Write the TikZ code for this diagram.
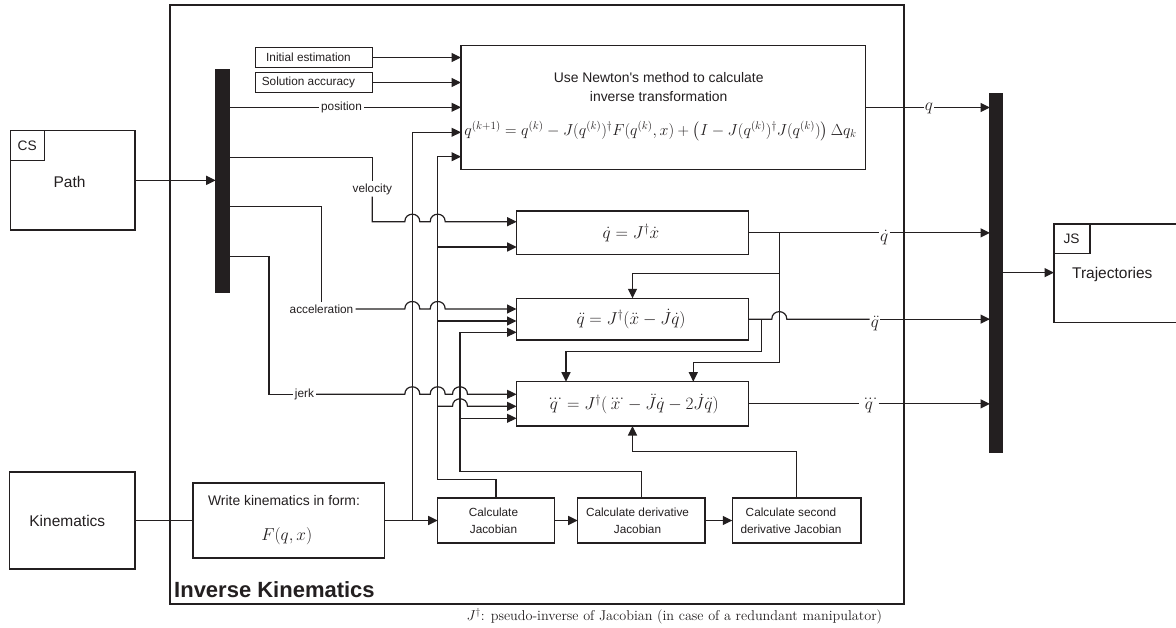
\documentclass[tikz,border=0pt]{standalone}
\usepackage{amsmath}
\usepackage{graphicx}
\usepackage{fontspec}
\newfontfamily\arial{Liberation Sans}
\usetikzlibrary{arrows.meta}
\definecolor{ink}{RGB}{35,31,32}
\newcommand\mkbox[6][]{\node[blk,minimum width={#4-#2},minimum height={#5-#3},#1] (#6) at ({(#2+#4)/2},{(#3+#5)/2}) {};}
\begin{document}
\begin{tikzpicture}[x=1pt,y=-1pt,
  ln/.style={line width=1.2pt, draw=ink},
  arr/.style={ln, -{Triangle[length=9.5pt,width=9pt]}},
  blk/.style={draw=ink, line width=1.3pt, rectangle, inner sep=0pt, outer sep=0pt},
  bus/.style={fill=ink, rectangle, inner sep=0pt, outer sep=0pt},
  lbl/.style={font=\arial\fontsize{11.8}{14}\selectfont, text=ink, inner sep=2pt},
  stxt/.style={font=\arial\fontsize{11.8}{17}\selectfont, text=ink, inner sep=0pt, align=center},
  mtxt/.style={font=\fontsize{13.9}{19.3}\selectfont\arial, text=ink, inner sep=0pt, align=center},
  btxt/.style={font=\arial\fontsize{15.5}{18}\selectfont, text=ink, inner sep=0pt},
  ctxt/.style={font=\arial\fontsize{13.7}{16}\selectfont, text=ink, inner sep=0pt},
  math/.style={font=\fontsize{18.5}{22}\selectfont, text=ink, inner sep=0pt},
  mlbl/.style={font=\fontsize{18.5}{22}\selectfont, text=ink, inner sep=1pt},
  jp/.style 2 args={insert path={-- (#1-7.5,#2) .. controls (#1-7.5,#2-10) and (#1+7.5,#2-10) .. (#1+7.5,#2)}}
]
\useasboundingbox (0,0) rectangle (1176,627);
\fill[white] (0,0) rectangle (1176,627);

% ---------- boxes ----------
\mkbox{170}{5}{904}{604}{ik}
\node[font=\arial\bfseries\fontsize{22}{26}\selectfont, text=ink, anchor=base west, inner sep=0pt] (iktitle) at (174,597.5) {Inverse Kinematics};

\mkbox{10.7}{130.7}{135}{230}{path}
\mkbox{10.7}{130.7}{44.7}{160.7}{cs}
\node[ctxt] (cstxt) at (27.2,145.7) {CS};
\node[btxt] (pathtxt) at (69.5,181.7) {Path};

\mkbox{9.3}{472}{135}{569}{kin}
\node[btxt] (kintxt) at (67.3,520.5) {Kinematics};

\mkbox[bus]{215.7}{70}{229}{292.3}{busL}
\mkbox[bus]{990}{93.2}{1002.7}{452}{busR}

\mkbox{255.7}{47.3}{372.3}{67.7}{ie}
\node[stxt] (ietxt) at (308.5,57.5) {Initial estimation};
\mkbox{255.7}{72.7}{372.3}{92.3}{sa}
\node[stxt] (satxt) at (308.4,82.5) {Solution accuracy};

\mkbox{461}{45.7}{865.3}{169.3}{nw}
\node[mtxt] (nwtxt) at (658.7,87.3) {Use Newton's method to calculate\\inverse transformation};
\node[math] (nweq) at (660.5,131) {\resizebox{392pt}{!}{$q^{(k+1)} = q^{(k)} - J(q^{(k)})^\dagger F(q^{(k)},x) + \bigl(I - J(q^{(k)})^\dagger J(q^{(k)})\bigr)\,\Delta q_k$}};

\mkbox{516.7}{211}{748.3}{254.7}{qd}
\node[math] (qdtxt) at (631,232.8) {$\dot q = J^\dagger \dot x$};
\mkbox{516.5}{298.3}{748.5}{340}{qdd}
\node[math] (qddtxt) at (631,319.2) {$\ddot q = J^\dagger (\ddot x - \dot J \dot q)$};
\mkbox{516.5}{381.7}{748.5}{426}{qddd}
\node[math] (qdddtxt) at (632,403.8) {$\dddot q = J^\dagger (\dddot x - \ddot J \dot q - 2\dot J \ddot q)$};

\mkbox{193}{483}{384.3}{558}{wr}
\node[mtxt] (wrtxt1) at (284,501) {Write kinematics in form:};
\node[math] (wrtxt2) at (286.7,535.7) {$F(q,x)$};

\mkbox{437.7}{498}{554.3}{543}{cj}
\node[stxt] (cjtxt) at (493.5,520.5) {Calculate\\Jacobian};
\mkbox{577.7}{498}{705}{543}{cdj}
\node[stxt] (cdjtxt) at (637.5,520.5) {Calculate derivative\\Jacobian};
\mkbox{732.3}{498}{861}{543}{cddj}
\node[stxt] (cddjtxt) at (791,520.5) {Calculate second\\derivative Jacobian};

\mkbox{1054}{224}{1195}{322.4}{js}
\mkbox{1054}{224}{1090}{253.2}{jssub}
\node[ctxt] (jstxt) at (1071.5,239) {JS};
\node[btxt] (trajtxt) at (1112.3,274.4) {Trajectories};

% ---------- wire labels ----------
\node[lbl] (poslbl) at (341.5,107.3) {position};
\node[lbl] (vellbl) at (372.3,189) {velocity};
\node[lbl] (acclbl) at (321.5,309) {acceleration};
\node[lbl] (jerklbl) at (304.5,394.3) {jerk};
\node[mlbl] (qlbl) at (929,108) {$q$};
\node[mlbl] (qdlbl) at (884.3,238) {$\dot q$};
\node[mlbl] (qddlbl) at (875,324) {$\ddot q$};
\node[mlbl] (qdddlbl) at (869,406) {$\dddot q$};

% ---------- coordinates ----------
\coordinate (nwi3) at (461,107.3);
\coordinate (nwi4) at (461,132.3);
\coordinate (nwi5) at (461,156.7);
\coordinate (bl1) at (229,107.3);
\coordinate (bl2) at (229,157.3);
\coordinate (bl3) at (229,206.7);
\coordinate (bl4) at (229,256.3);
\coordinate (jc) at (269,394.3);
\coordinate (qdi1) at (516.7,221.7);
\coordinate (qdi2) at (516.7,247);
\coordinate (qddi1) at (516.5,309);
\coordinate (qddi2) at (516.5,321);
\coordinate (qddi3) at (516.5,332.3);
\coordinate (qdddi1) at (516.5,394.3);
\coordinate (qdddi2) at (516.5,406.3);
\coordinate (qdddi3) at (516.5,418.3);
\coordinate (fj) at (412.3,520.5);
\coordinate (cjc) at (437.7,479.3);
\coordinate (cjb1) at (437.7,247);
\coordinate (cjb2) at (437.7,321);
\coordinate (cjb3) at (437.7,406.3);
\coordinate (cdjc) at (460,471.7);
\coordinate (cdjb) at (460,418.3);
\coordinate (cddjc) at (632.5,451.3);
\coordinate (qdj) at (779.3,232.85);
\coordinate (qdjb) at (779.3,362.3);
\coordinate (qdjc) at (779.3,273.3);
\coordinate (qdddt2) at (693.3,381.7);
\coordinate (qddj) at (761.7,319.15);
\coordinate (qddjb) at (761.7,351.7);
\coordinate (qdddt1) at (566,381.7);

% ---------- wires ----------
\draw[arr] (path.east) -- (path.east -| busL.west);
\draw[ln] (kin.east) -- (kin.east -| wr.west);
\draw[arr] (wr.east) -- (wr.east -| cj.west);
\draw[arr] (fj) |- (nwi4);
\draw[arr] (ie.east) -- (ie.east -| nw.west);
\draw[arr] (sa.east) -- (sa.east -| nw.west);

\draw[ln] (bl1) -- (poslbl.west);
\draw[arr] (poslbl.east) -- (nwi3);
\draw[ln] (bl2) -| (vellbl.north);
\draw[arr] (vellbl.south) -- (372.3,221.7) [jp={412.3}{221.7}] [jp={437.7}{221.7}] -- (qdi1);
\draw[ln] (bl3) -| (acclbl.north);
\draw[arr] (acclbl.east) [jp={412.3}{309}] [jp={437.7}{309}] -- (qddi1);
\draw[ln] (bl4) -| (jc) -- (jerklbl.west);
\draw[arr] (jerklbl.east) [jp={412.3}{394.3}] [jp={437.7}{394.3}] [jp={460}{394.3}] -- (qdddi1);

\draw[arr] (cj.north) |- (cjc) |- (nwi5);
\draw[arr] (cjb1) -- (qdi2);
\draw[arr] (cjb2) -- (qddi2);
\draw[arr] (cjb3) [jp={460}{406.3}] -- (qdddi2);
\draw[arr] (cdj.north) |- (cdjc) |- (qddi3);
\draw[arr] (cdjb) -- (qdddi3);
\draw[arr] (cddj.north) |- (cddjc) -- (qddd.south);
\draw[arr] (cj.east) -- (cdj.west);
\draw[arr] (cdj.east) -- (cddj.west);

\draw[ln] (nw.east) -- (nw.east -| qlbl.west);
\draw[arr] (nw.east -| qlbl.east) -- (nw.east -| busR.west);
\draw[ln] (qd.east) -- (qd.east -| qdlbl.west);
\draw[arr] (qd.east -| qdlbl.east) -- (qd.east -| busR.west);
\draw[arr] (qdj) -- (qdjb) -| (qdddt2);
\draw[arr] (qdjc) -| (qdd.north);
\draw[ln] (qdd.east) -- (qddj) [jp={779.3}{319.15}] -- (qdd.east -| qddlbl.west);
\draw[arr] (qdd.east -| qddlbl.east) -- (qdd.east -| busR.west);
\draw[arr] (qddj) -- (qddjb) -| (qdddt1);
\draw[ln] (qddd.east) -- (qddd.east -| qdddlbl.west);
\draw[arr] (qddd.east -| qdddlbl.east) -- (qddd.east -| busR.west);
\draw[arr] (busR.east) -- (busR.east -| js.west);

% ---------- footnote ----------
\node[anchor=west, inner sep=0pt, text=ink, font=\fontsize{14.2}{16}\selectfont] (fn) at (466.5,616.5) {$J^\dagger$: pseudo-inverse of Jacobian (in case of a redundant manipulator)};
\end{tikzpicture}
\end{document}
